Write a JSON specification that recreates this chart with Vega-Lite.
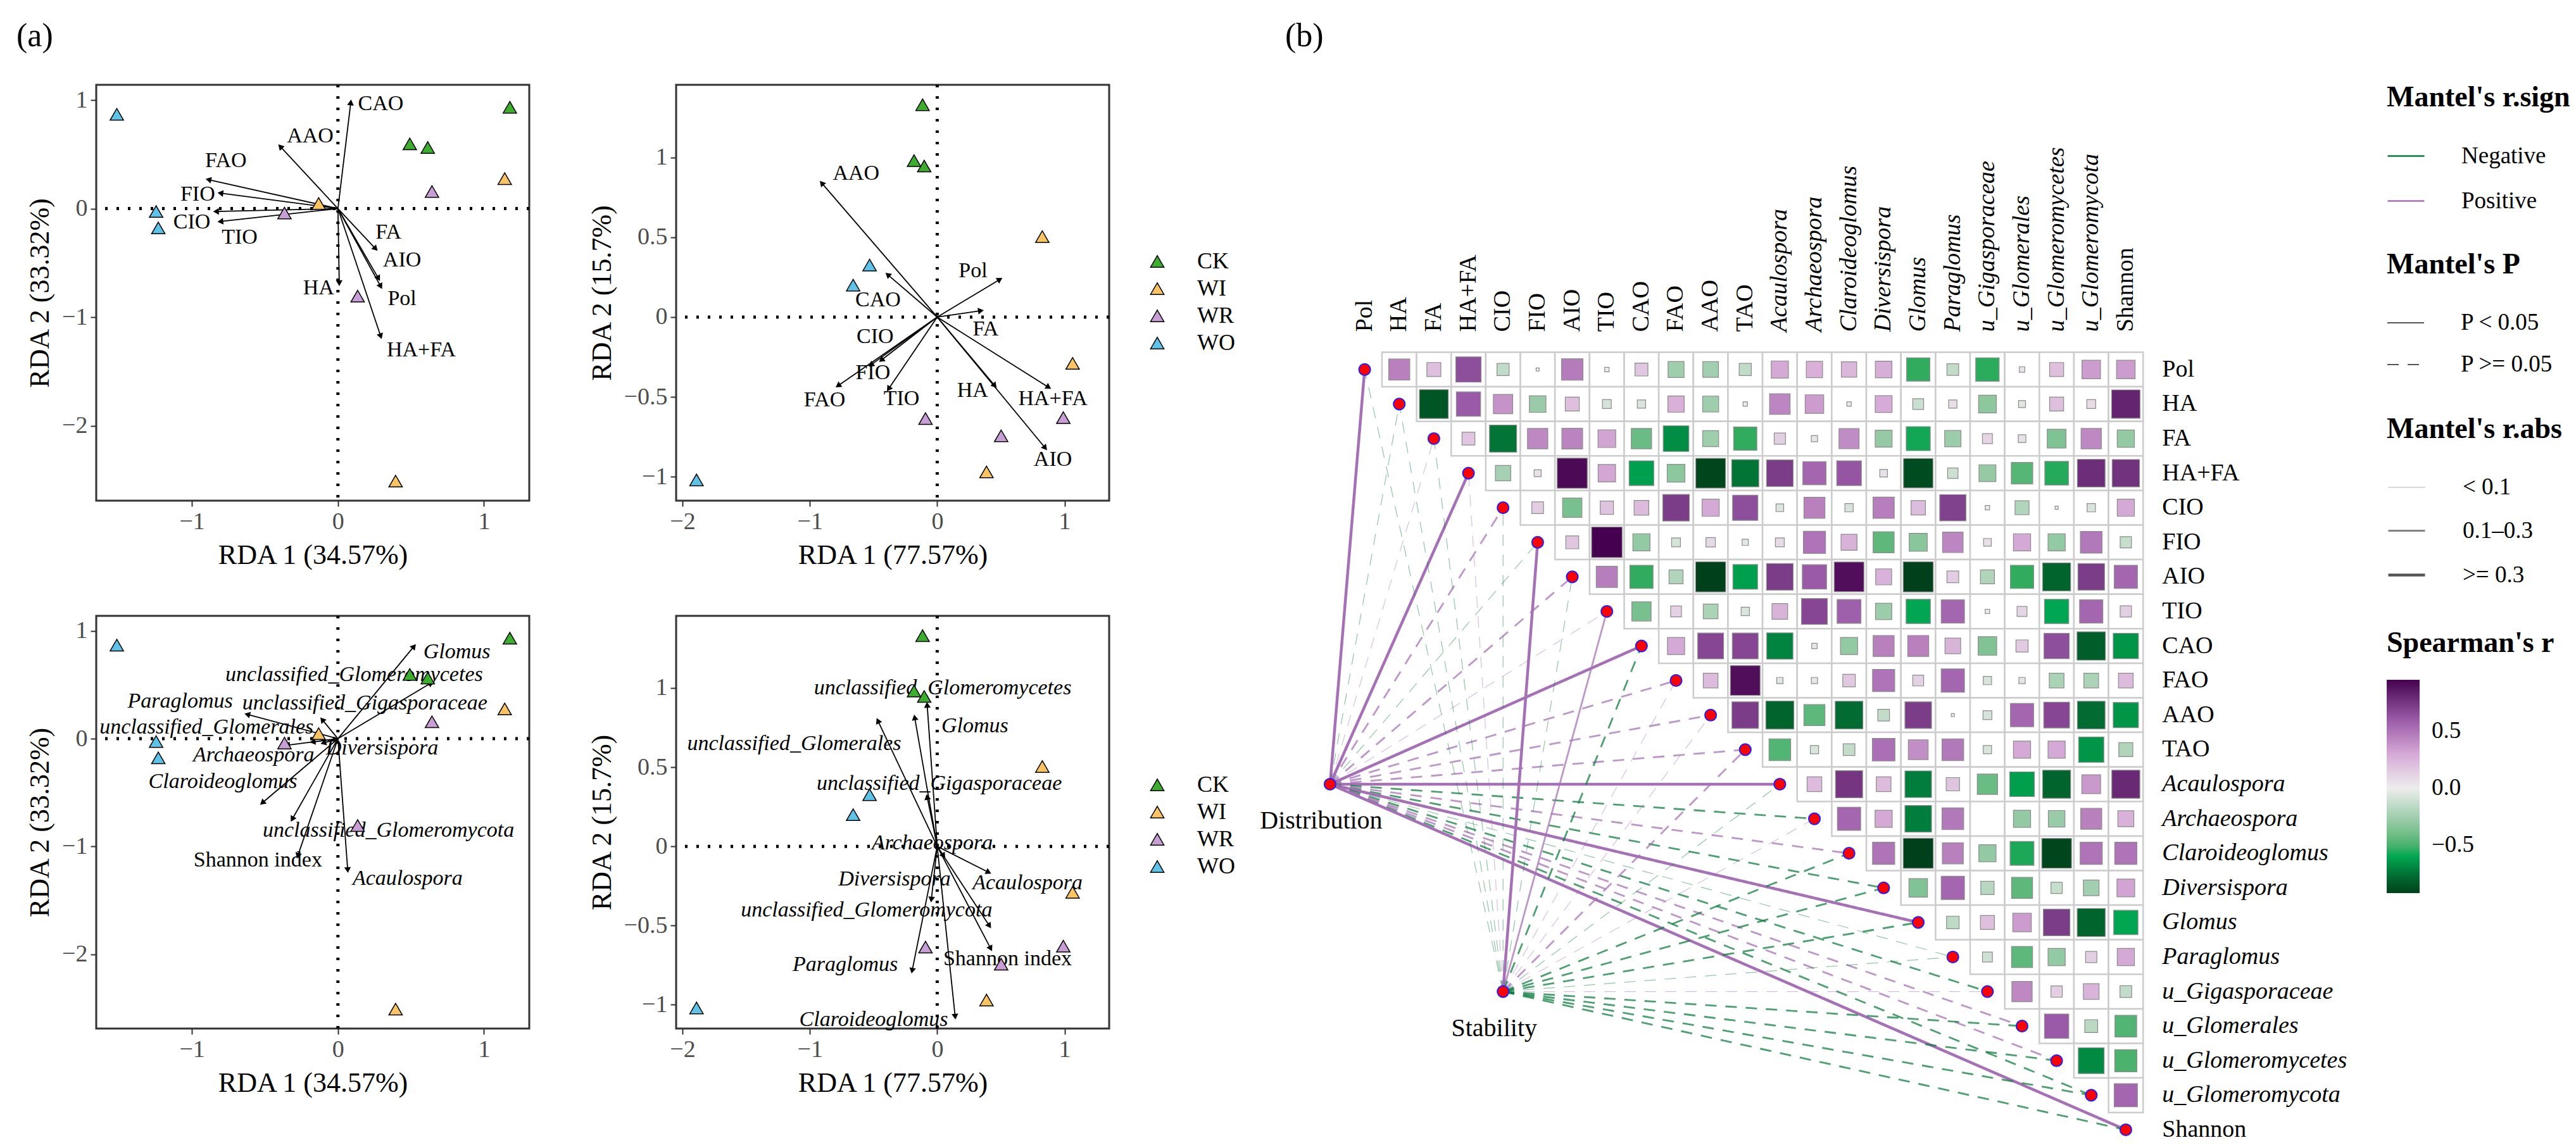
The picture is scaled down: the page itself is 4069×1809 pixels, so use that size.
{
"$schema": "https://vega.github.io/schema/vega-lite/v6.json",
"padding": {"left": 24, "top": 29, "right": 0, "bottom": 0},
"background": "white",
"config": {
  "font": "Liberation Serif",
  "view": {"stroke": null},
  "axis": {"domain": false, "grid": false, "ticks": true, "tickColor": "#333333", "tickWidth": 2, "tickSize": 9, "labelFontSize": 38, "labelColor": "#4D4D4D", "titleFontSize": 44, "titleFontWeight": "normal", "titleColor": "black", "labelPadding": 5, "titlePadding": 12, "labelFlush": false, "labelOverlap": false, "format": "~g"},
  "legend": {"labelFontSize": 37, "titleFontSize": 46, "titleFontWeight": "bold", "labelColor": "black", "titleColor": "black", "labelLimit": 800, "titleLimit": 800},
  "title": {"fontWeight": "normal", "fontSize": 52, "color": "black", "anchor": "start"}
},
"datasets": {
  "sitesA": [
    {"group":"WO","x":-1.514,"y":0.868},{"group":"WO","x":-1.245,"y":-0.027},{"group":"WO","x":-1.23,"y":-0.178},
    {"group":"CK","x":1.177,"y":0.933},{"group":"CK","x":0.492,"y":0.596},{"group":"CK","x":0.615,"y":0.563},
    {"group":"WI","x":1.142,"y":0.276},{"group":"WI","x":-0.132,"y":0.047},{"group":"WI","x":0.395,"y":-2.51},
    {"group":"WR","x":0.644,"y":0.157},{"group":"WR","x":-0.366,"y":-0.041},{"group":"WR","x":0.135,"y":-0.806}
  ],
  "sitesB": [
    {"group":"CK","x":-0.115,"y":1.33},{"group":"CK","x":-0.182,"y":0.98},{"group":"CK","x":-0.102,"y":0.946},
    {"group":"WI","x":0.825,"y":0.504},{"group":"WI","x":1.063,"y":-0.29},{"group":"WI","x":0.387,"y":-0.97},
    {"group":"WR","x":-0.092,"y":-0.636},{"group":"WR","x":0.502,"y":-0.744},{"group":"WR","x":0.99,"y":-0.63},
    {"group":"WO","x":-0.531,"y":0.326},{"group":"WO","x":-0.66,"y":0.2},{"group":"WO","x":-1.89,"y":-1.02}
  ],
  "envA": [
    {"name":"CAO","x":0.088,"y":0.978,"lx":0.293,"ly":0.966},
    {"name":"AAO","x":-0.395,"y":0.572,"lx":-0.19,"ly":0.67},
    {"name":"FAO","x":-0.887,"y":0.267,"lx":-0.767,"ly":0.439},
    {"name":"FIO","x":-0.805,"y":0.142,"lx":-0.96,"ly":0.133},
    {"name":"CIO","x":-0.835,"y":-0.027,"lx":-1.0,"ly":-0.124},
    {"name":"TIO","x":-0.805,"y":-0.119,"lx":-0.673,"ly":-0.267},
    {"name":"FA","x":0.258,"y":-0.37,"lx":0.346,"ly":-0.219},
    {"name":"AIO","x":0.278,"y":-0.643,"lx":0.439,"ly":-0.474},
    {"name":"Pol","x":0.293,"y":-0.717,"lx":0.439,"ly":-0.83},
    {"name":"HA","x":0.009,"y":-0.687,"lx":-0.132,"ly":-0.732},
    {"name":"HA+FA","x":0.293,"y":-1.176,"lx":0.571,"ly":-1.304}
  ],
  "envB": [
    {"name":"AAO","x":-0.907,"y":0.84,"lx":-0.637,"ly":0.9},
    {"name":"CAO","x":-0.389,"y":0.266,"lx":-0.465,"ly":0.106},
    {"name":"Pol","x":0.492,"y":0.236,"lx":0.281,"ly":0.29},
    {"name":"FA","x":0.343,"y":0.04,"lx":0.38,"ly":-0.074},
    {"name":"CIO","x":-0.439,"y":-0.27,"lx":-0.488,"ly":-0.124},
    {"name":"FIO","x":-0.521,"y":-0.3,"lx":-0.505,"ly":-0.35},
    {"name":"FAO","x":-0.779,"y":-0.43,"lx":-0.884,"ly":-0.52},
    {"name":"TIO","x":-0.382,"y":-0.45,"lx":-0.28,"ly":-0.51},
    {"name":"HA","x":0.452,"y":-0.43,"lx":0.278,"ly":-0.46},
    {"name":"HA+FA","x":0.875,"y":-0.44,"lx":0.908,"ly":-0.51},
    {"name":"AIO","x":0.848,"y":-0.82,"lx":0.908,"ly":-0.894}
  ],
  "taxA": [
    {"name":"Glomus","kind":"taxon","x":0.521,"y":0.857,"lx":0.814,"ly":0.808},
    {"name":"unclassified_Glomeromycetes","kind":"taxon","x":0.638,"y":0.517,"lx":0.111,"ly":0.592},
    {"name":"unclassified_Gigasporaceae","kind":"taxon","x":-0.108,"y":0.177,"lx":0.184,"ly":0.328},
    {"name":"Paraglomus","kind":"taxon","x":-0.621,"y":0.226,"lx":-1.08,"ly":0.347},
    {"name":"unclassified_Glomerales","kind":"taxon","x":-0.173,"y":-0.03,"lx":-0.9,"ly":0.109},
    {"name":"Archaeospora","kind":"taxon","x":-0.348,"y":-0.06,"lx":-0.577,"ly":-0.151},
    {"name":"Diversispora","kind":"taxon","x":-0.1,"y":-0.04,"lx":0.302,"ly":-0.087},
    {"name":"Claroideoglomus","kind":"taxon","x":-0.518,"y":-0.596,"lx":-0.788,"ly":-0.4},
    {"name":"unclassified_Glomeromycota","kind":"taxon","x":-0.313,"y":-0.747,"lx":0.346,"ly":-0.853},
    {"name":"Shannon index","kind":"index","x":-0.275,"y":-1.087,"lx":-0.548,"ly":-1.125},
    {"name":"Acaulospora","kind":"taxon","x":0.067,"y":-1.219,"lx":0.477,"ly":-1.3}
  ],
  "taxB": [
    {"name":"unclassified_Glomeromycetes","kind":"taxon","x":-0.177,"y":0.814,"lx":0.043,"ly":0.999},
    {"name":"Glomus","kind":"taxon","x":-0.079,"y":0.893,"lx":0.296,"ly":0.761},
    {"name":"unclassified_Glomerales","kind":"taxon","x":-0.466,"y":0.793,"lx":-1.123,"ly":0.647},
    {"name":"unclassified_Gigasporaceae","kind":"taxon","x":-0.079,"y":0.312,"lx":0.016,"ly":0.396},
    {"name":"Archaeospora","kind":"taxon","x":0.05,"y":-0.06,"lx":-0.039,"ly":0.021},
    {"name":"Acaulospora","kind":"taxon","x":0.404,"y":-0.164,"lx":0.709,"ly":-0.23},
    {"name":"Diversispora","kind":"taxon","x":-0.046,"y":-0.336,"lx":-0.335,"ly":-0.209},
    {"name":"unclassified_Glomeromycota","kind":"taxon","x":0.41,"y":-0.502,"lx":-0.555,"ly":-0.402},
    {"name":"Shannon index","kind":"index","x":0.42,"y":-0.645,"lx":0.552,"ly":-0.711},
    {"name":"Paraglomus","kind":"taxon","x":-0.197,"y":-0.785,"lx":-0.722,"ly":-0.745},
    {"name":"Claroideoglomus","kind":"taxon","x":0.141,"y":-1.075,"lx":-0.499,"ly":-1.094}
  ],
  "vars": [
    {"name":"Pol","idx":0,"group":"soil"},{"name":"HA","idx":1,"group":"soil"},{"name":"FA","idx":2,"group":"soil"},
    {"name":"HA+FA","idx":3,"group":"soil"},{"name":"CIO","idx":4,"group":"soil"},{"name":"FIO","idx":5,"group":"soil"},
    {"name":"AIO","idx":6,"group":"soil"},{"name":"TIO","idx":7,"group":"soil"},{"name":"CAO","idx":8,"group":"soil"},
    {"name":"FAO","idx":9,"group":"soil"},{"name":"AAO","idx":10,"group":"soil"},{"name":"TAO","idx":11,"group":"soil"},
    {"name":"Acaulospora","idx":12,"group":"taxon"},{"name":"Archaeospora","idx":13,"group":"taxon"},
    {"name":"Claroideoglomus","idx":14,"group":"taxon"},{"name":"Diversispora","idx":15,"group":"taxon"},
    {"name":"Glomus","idx":16,"group":"taxon"},{"name":"Paraglomus","idx":17,"group":"taxon"},
    {"name":"u_Gigasporaceae","idx":18,"group":"taxon"},{"name":"u_Glomerales","idx":19,"group":"taxon"},
    {"name":"u_Glomeromycetes","idx":20,"group":"taxon"},{"name":"u_Glomeromycota","idx":21,"group":"taxon"},
    {"name":"Shannon","idx":22,"group":"diversity"}
  ],
  "envs": [
    {"env":"Distribution","ex":-1,"ey":12},
    {"env":"Stability","ex":4,"ey":18}
  ],
  "links": [
    {"env":"Distribution","spec":"Pol","sign":"Positive","p":"P < 0.05","rabs":">= 0.3"},
    {"env":"Distribution","spec":"HA","sign":"Negative","p":"P >= 0.05","rabs":"< 0.1"},
    {"env":"Distribution","spec":"FA","sign":"Positive","p":"P >= 0.05","rabs":"< 0.1"},
    {"env":"Distribution","spec":"HA+FA","sign":"Positive","p":"P < 0.05","rabs":">= 0.3"},
    {"env":"Distribution","spec":"CIO","sign":"Positive","p":"P >= 0.05","rabs":"0.1–0.3"},
    {"env":"Distribution","spec":"FIO","sign":"Negative","p":"P >= 0.05","rabs":"< 0.1"},
    {"env":"Distribution","spec":"AIO","sign":"Positive","p":"P >= 0.05","rabs":"0.1–0.3"},
    {"env":"Distribution","spec":"TIO","sign":"Positive","p":"P >= 0.05","rabs":"< 0.1"},
    {"env":"Distribution","spec":"CAO","sign":"Positive","p":"P < 0.05","rabs":">= 0.3"},
    {"env":"Distribution","spec":"FAO","sign":"Positive","p":"P >= 0.05","rabs":"0.1–0.3"},
    {"env":"Distribution","spec":"AAO","sign":"Positive","p":"P >= 0.05","rabs":"0.1–0.3"},
    {"env":"Distribution","spec":"TAO","sign":"Positive","p":"P >= 0.05","rabs":"0.1–0.3"},
    {"env":"Distribution","spec":"Acaulospora","sign":"Positive","p":"P < 0.05","rabs":">= 0.3"},
    {"env":"Distribution","spec":"Archaeospora","sign":"Negative","p":"P >= 0.05","rabs":"0.1–0.3"},
    {"env":"Distribution","spec":"Claroideoglomus","sign":"Positive","p":"P >= 0.05","rabs":"0.1–0.3"},
    {"env":"Distribution","spec":"Diversispora","sign":"Negative","p":"P >= 0.05","rabs":"0.1–0.3"},
    {"env":"Distribution","spec":"Glomus","sign":"Positive","p":"P < 0.05","rabs":">= 0.3"},
    {"env":"Distribution","spec":"Paraglomus","sign":"Negative","p":"P >= 0.05","rabs":"< 0.1"},
    {"env":"Distribution","spec":"u_Gigasporaceae","sign":"Negative","p":"P >= 0.05","rabs":"0.1–0.3"},
    {"env":"Distribution","spec":"u_Glomerales","sign":"Positive","p":"P >= 0.05","rabs":"0.1–0.3"},
    {"env":"Distribution","spec":"u_Glomeromycetes","sign":"Positive","p":"P >= 0.05","rabs":"0.1–0.3"},
    {"env":"Distribution","spec":"u_Glomeromycota","sign":"Negative","p":"P >= 0.05","rabs":"0.1–0.3"},
    {"env":"Distribution","spec":"Shannon","sign":"Positive","p":"P < 0.05","rabs":">= 0.3"},
    {"env":"Stability","spec":"Pol","sign":"Negative","p":"P >= 0.05","rabs":"< 0.1"},
    {"env":"Stability","spec":"HA","sign":"Negative","p":"P >= 0.05","rabs":"< 0.1"},
    {"env":"Stability","spec":"FA","sign":"Negative","p":"P >= 0.05","rabs":"< 0.1"},
    {"env":"Stability","spec":"HA+FA","sign":"Positive","p":"P >= 0.05","rabs":"< 0.1"},
    {"env":"Stability","spec":"CIO","sign":"Negative","p":"P >= 0.05","rabs":"< 0.1"},
    {"env":"Stability","spec":"FIO","sign":"Positive","p":"P < 0.05","rabs":">= 0.3"},
    {"env":"Stability","spec":"AIO","sign":"Negative","p":"P >= 0.05","rabs":"< 0.1"},
    {"env":"Stability","spec":"TIO","sign":"Positive","p":"P < 0.05","rabs":"0.1–0.3"},
    {"env":"Stability","spec":"CAO","sign":"Negative","p":"P >= 0.05","rabs":"0.1–0.3"},
    {"env":"Stability","spec":"FAO","sign":"Positive","p":"P >= 0.05","rabs":"< 0.1"},
    {"env":"Stability","spec":"AAO","sign":"Positive","p":"P >= 0.05","rabs":"< 0.1"},
    {"env":"Stability","spec":"TAO","sign":"Positive","p":"P >= 0.05","rabs":"0.1–0.3"},
    {"env":"Stability","spec":"Acaulospora","sign":"Negative","p":"P >= 0.05","rabs":"< 0.1"},
    {"env":"Stability","spec":"Archaeospora","sign":"Positive","p":"P >= 0.05","rabs":"< 0.1"},
    {"env":"Stability","spec":"Claroideoglomus","sign":"Negative","p":"P >= 0.05","rabs":"0.1–0.3"},
    {"env":"Stability","spec":"Diversispora","sign":"Negative","p":"P >= 0.05","rabs":"0.1–0.3"},
    {"env":"Stability","spec":"Glomus","sign":"Negative","p":"P >= 0.05","rabs":"0.1–0.3"},
    {"env":"Stability","spec":"Paraglomus","sign":"Negative","p":"P >= 0.05","rabs":"< 0.1"},
    {"env":"Stability","spec":"u_Gigasporaceae","sign":"Positive","p":"P >= 0.05","rabs":"< 0.1"},
    {"env":"Stability","spec":"u_Glomerales","sign":"Negative","p":"P >= 0.05","rabs":"0.1–0.3"},
    {"env":"Stability","spec":"u_Glomeromycetes","sign":"Negative","p":"P >= 0.05","rabs":"0.1–0.3"},
    {"env":"Stability","spec":"u_Glomeromycota","sign":"Negative","p":"P >= 0.05","rabs":"0.1–0.3"},
    {"env":"Stability","spec":"Shannon","sign":"Negative","p":"P >= 0.05","rabs":"0.1–0.3"}
  ],
  "cells": [
    {"row":"Pol","col":"HA","r":0.45},{"row":"Pol","col":"FA","r":0.2},{"row":"Pol","col":"HA+FA","r":0.65},{"row":"Pol","col":"CIO","r":-0.15},{"row":"Pol","col":"FIO","r":0.01},{"row":"Pol","col":"AIO","r":0.47},{"row":"Pol","col":"TIO","r":0.02},{"row":"Pol","col":"CAO","r":0.17},{"row":"Pol","col":"FAO","r":-0.26},{"row":"Pol","col":"AAO","r":-0.25},{"row":"Pol","col":"TAO","r":-0.15},{"row":"Pol","col":"Acaulospora","r":0.3},{"row":"Pol","col":"Archaeospora","r":0.27},{"row":"Pol","col":"Claroideoglomus","r":0.24},{"row":"Pol","col":"Diversispora","r":0.28},{"row":"Pol","col":"Glomus","r":-0.55},{"row":"Pol","col":"Paraglomus","r":-0.14},{"row":"Pol","col":"u_Gigasporaceae","r":-0.56},{"row":"Pol","col":"u_Glomerales","r":0.03},{"row":"Pol","col":"u_Glomeromycetes","r":0.2},{"row":"Pol","col":"u_Glomeromycota","r":0.35},{"row":"Pol","col":"Shannon","r":0.35},
    {"row":"HA","col":"FA","r":-0.85},{"row":"HA","col":"HA+FA","r":0.6},{"row":"HA","col":"CIO","r":0.38},{"row":"HA","col":"FIO","r":-0.28},{"row":"HA","col":"AIO","r":0.2},{"row":"HA","col":"TIO","r":-0.08},{"row":"HA","col":"CAO","r":-0.07},{"row":"HA","col":"FAO","r":0.27},{"row":"HA","col":"AAO","r":-0.26},{"row":"HA","col":"TAO","r":0.02},{"row":"HA","col":"Acaulospora","r":0.43},{"row":"HA","col":"Archaeospora","r":0.35},{"row":"HA","col":"Claroideoglomus","r":0.02},{"row":"HA","col":"Diversispora","r":0.29},{"row":"HA","col":"Glomus","r":-0.12},{"row":"HA","col":"Paraglomus","r":0.07},{"row":"HA","col":"u_Gigasporaceae","r":-0.32},{"row":"HA","col":"u_Glomerales","r":-0.05},{"row":"HA","col":"u_Glomeromycetes","r":0.2},{"row":"HA","col":"u_Glomeromycota","r":0.08},{"row":"HA","col":"Shannon","r":0.82},
    {"row":"FA","col":"HA+FA","r":0.17},{"row":"FA","col":"CIO","r":-0.75},{"row":"FA","col":"FIO","r":0.42},{"row":"FA","col":"AIO","r":0.44},{"row":"FA","col":"TIO","r":0.32},{"row":"FA","col":"CAO","r":-0.42},{"row":"FA","col":"FAO","r":-0.67},{"row":"FA","col":"AAO","r":-0.26},{"row":"FA","col":"TAO","r":-0.55},{"row":"FA","col":"Acaulospora","r":0.13},{"row":"FA","col":"Archaeospora","r":0.04},{"row":"FA","col":"Claroideoglomus","r":0.41},{"row":"FA","col":"Diversispora","r":-0.29},{"row":"FA","col":"Glomus","r":-0.59},{"row":"FA","col":"Paraglomus","r":-0.27},{"row":"FA","col":"u_Gigasporaceae","r":0.1},{"row":"FA","col":"u_Glomerales","r":0.06},{"row":"FA","col":"u_Glomeromycetes","r":-0.36},{"row":"FA","col":"u_Glomeromycota","r":0.42},{"row":"FA","col":"Shannon","r":-0.3},
    {"row":"HA+FA","col":"CIO","r":-0.24},{"row":"HA+FA","col":"FIO","r":0.05},{"row":"HA+FA","col":"AIO","r":0.92},{"row":"HA+FA","col":"TIO","r":0.31},{"row":"HA+FA","col":"CAO","r":-0.62},{"row":"HA+FA","col":"FAO","r":-0.32},{"row":"HA+FA","col":"AAO","r":-0.9},{"row":"HA+FA","col":"TAO","r":-0.75},{"row":"HA+FA","col":"Acaulospora","r":0.72},{"row":"HA+FA","col":"Archaeospora","r":0.55},{"row":"HA+FA","col":"Claroideoglomus","r":0.62},{"row":"HA+FA","col":"Diversispora","r":0.06},{"row":"HA+FA","col":"Glomus","r":-0.88},{"row":"HA+FA","col":"Paraglomus","r":-0.11},{"row":"HA+FA","col":"u_Gigasporaceae","r":-0.29},{"row":"HA+FA","col":"u_Glomerales","r":-0.47},{"row":"HA+FA","col":"u_Glomeromycetes","r":-0.57},{"row":"HA+FA","col":"u_Glomeromycota","r":0.78},{"row":"HA+FA","col":"Shannon","r":0.76},
    {"row":"CIO","col":"FIO","r":0.14},{"row":"CIO","col":"AIO","r":-0.38},{"row":"CIO","col":"TIO","r":0.18},{"row":"CIO","col":"CAO","r":0.22},{"row":"CIO","col":"FAO","r":0.72},{"row":"CIO","col":"AAO","r":0.3},{"row":"CIO","col":"TAO","r":0.65},{"row":"CIO","col":"Acaulospora","r":-0.06},{"row":"CIO","col":"Archaeospora","r":0.45},{"row":"CIO","col":"Claroideoglomus","r":-0.07},{"row":"CIO","col":"Diversispora","r":0.46},{"row":"CIO","col":"Glomus","r":0.21},{"row":"CIO","col":"Paraglomus","r":0.7},{"row":"CIO","col":"u_Gigasporaceae","r":0.02},{"row":"CIO","col":"u_Glomerales","r":-0.2},{"row":"CIO","col":"u_Glomeromycetes","r":-0.01},{"row":"CIO","col":"u_Glomeromycota","r":-0.07},{"row":"CIO","col":"Shannon","r":0.3},
    {"row":"FIO","col":"AIO","r":0.17},{"row":"FIO","col":"TIO","r":0.95},{"row":"FIO","col":"CAO","r":-0.3},{"row":"FIO","col":"FAO","r":-0.08},{"row":"FIO","col":"AAO","r":0.09},{"row":"FIO","col":"TAO","r":-0.04},{"row":"FIO","col":"Acaulospora","r":0.08},{"row":"FIO","col":"Archaeospora","r":0.5},{"row":"FIO","col":"Claroideoglomus","r":0.26},{"row":"FIO","col":"Diversispora","r":-0.45},{"row":"FIO","col":"Glomus","r":-0.33},{"row":"FIO","col":"Paraglomus","r":0.43},{"row":"FIO","col":"u_Gigasporaceae","r":0.06},{"row":"FIO","col":"u_Glomerales","r":0.3},{"row":"FIO","col":"u_Glomeromycetes","r":-0.3},{"row":"FIO","col":"u_Glomeromycota","r":0.48},{"row":"FIO","col":"Shannon","r":-0.13},
    {"row":"AIO","col":"TIO","r":0.46},{"row":"AIO","col":"CAO","r":-0.55},{"row":"AIO","col":"FAO","r":-0.2},{"row":"AIO","col":"AAO","r":-0.92},{"row":"AIO","col":"TAO","r":-0.62},{"row":"AIO","col":"Acaulospora","r":0.72},{"row":"AIO","col":"Archaeospora","r":0.6},{"row":"AIO","col":"Claroideoglomus","r":0.9},{"row":"AIO","col":"Diversispora","r":0.26},{"row":"AIO","col":"Glomus","r":-0.92},{"row":"AIO","col":"Paraglomus","r":0.14},{"row":"AIO","col":"u_Gigasporaceae","r":-0.2},{"row":"AIO","col":"u_Glomerales","r":-0.55},{"row":"AIO","col":"u_Glomeromycetes","r":-0.8},{"row":"AIO","col":"u_Glomeromycota","r":0.72},{"row":"AIO","col":"Shannon","r":0.55},
    {"row":"TIO","col":"CAO","r":-0.38},{"row":"TIO","col":"FAO","r":0.12},{"row":"TIO","col":"AAO","r":-0.22},{"row":"TIO","col":"TAO","r":-0.07},{"row":"TIO","col":"Acaulospora","r":0.25},{"row":"TIO","col":"Archaeospora","r":0.68},{"row":"TIO","col":"Claroideoglomus","r":0.58},{"row":"TIO","col":"Diversispora","r":-0.27},{"row":"TIO","col":"Glomus","r":-0.6},{"row":"TIO","col":"Paraglomus","r":0.55},{"row":"TIO","col":"u_Gigasporaceae","r":0.02},{"row":"TIO","col":"u_Glomerales","r":0.1},{"row":"TIO","col":"u_Glomeromycetes","r":-0.6},{"row":"TIO","col":"u_Glomeromycota","r":0.55},{"row":"TIO","col":"Shannon","r":0.13},
    {"row":"CAO","col":"FAO","r":0.3},{"row":"CAO","col":"AAO","r":0.68},{"row":"CAO","col":"TAO","r":0.68},{"row":"CAO","col":"Acaulospora","r":-0.7},{"row":"CAO","col":"Archaeospora","r":-0.03},{"row":"CAO","col":"Claroideoglomus","r":-0.3},{"row":"CAO","col":"Diversispora","r":0.45},{"row":"CAO","col":"Glomus","r":0.45},{"row":"CAO","col":"Paraglomus","r":0.25},{"row":"CAO","col":"u_Gigasporaceae","r":-0.35},{"row":"CAO","col":"u_Glomerales","r":0.15},{"row":"CAO","col":"u_Glomeromycetes","r":0.65},{"row":"CAO","col":"u_Glomeromycota","r":-0.82},{"row":"CAO","col":"Shannon","r":-0.65},
    {"row":"FAO","col":"AAO","r":0.22},{"row":"FAO","col":"TAO","r":0.9},{"row":"FAO","col":"Acaulospora","r":-0.04},{"row":"FAO","col":"Archaeospora","r":0.04},{"row":"FAO","col":"Claroideoglomus","r":0.16},{"row":"FAO","col":"Diversispora","r":0.5},{"row":"FAO","col":"Glomus","r":0.12},{"row":"FAO","col":"Paraglomus","r":0.55},{"row":"FAO","col":"u_Gigasporaceae","r":-0.07},{"row":"FAO","col":"u_Glomerales","r":-0.04},{"row":"FAO","col":"u_Glomeromycetes","r":-0.22},{"row":"FAO","col":"u_Glomeromycota","r":-0.22},{"row":"FAO","col":"Shannon","r":0.22},
    {"row":"AAO","col":"TAO","r":0.72},{"row":"AAO","col":"Acaulospora","r":-0.8},{"row":"AAO","col":"Archaeospora","r":-0.45},{"row":"AAO","col":"Claroideoglomus","r":-0.78},{"row":"AAO","col":"Diversispora","r":-0.14},{"row":"AAO","col":"Glomus","r":0.72},{"row":"AAO","col":"Paraglomus","r":0.01},{"row":"AAO","col":"u_Gigasporaceae","r":-0.08},{"row":"AAO","col":"u_Glomerales","r":0.55},{"row":"AAO","col":"u_Glomeromycetes","r":0.68},{"row":"AAO","col":"u_Glomeromycota","r":-0.78},{"row":"AAO","col":"Shannon","r":-0.65},
    {"row":"TAO","col":"Acaulospora","r":-0.48},{"row":"TAO","col":"Archaeospora","r":-0.07},{"row":"TAO","col":"Claroideoglomus","r":-0.14},{"row":"TAO","col":"Diversispora","r":0.52},{"row":"TAO","col":"Glomus","r":0.4},{"row":"TAO","col":"Paraglomus","r":0.48},{"row":"TAO","col":"u_Gigasporaceae","r":-0.07},{"row":"TAO","col":"u_Glomerales","r":0.3},{"row":"TAO","col":"u_Glomeromycetes","r":0.3},{"row":"TAO","col":"u_Glomeromycota","r":-0.65},{"row":"TAO","col":"Shannon","r":-0.2},
    {"row":"Acaulospora","col":"Archaeospora","r":0.22},{"row":"Acaulospora","col":"Claroideoglomus","r":0.75},{"row":"Acaulospora","col":"Diversispora","r":0.22},{"row":"Acaulospora","col":"Glomus","r":-0.72},{"row":"Acaulospora","col":"Paraglomus","r":0.18},{"row":"Acaulospora","col":"u_Gigasporaceae","r":-0.42},{"row":"Acaulospora","col":"u_Glomerales","r":-0.62},{"row":"Acaulospora","col":"u_Glomeromycetes","r":-0.8},{"row":"Acaulospora","col":"u_Glomeromycota","r":0.36},{"row":"Acaulospora","col":"Shannon","r":0.8},
    {"row":"Archaeospora","col":"Claroideoglomus","r":0.55},{"row":"Archaeospora","col":"Diversispora","r":0.3},{"row":"Archaeospora","col":"Glomus","r":-0.72},{"row":"Archaeospora","col":"Paraglomus","r":0.48},{"row":"Archaeospora","col":"u_Gigasporaceae","r":0.0},{"row":"Archaeospora","col":"u_Glomerales","r":-0.3},{"row":"Archaeospora","col":"u_Glomeromycetes","r":-0.28},{"row":"Archaeospora","col":"u_Glomeromycota","r":0.45},{"row":"Archaeospora","col":"Shannon","r":0.26},
    {"row":"Claroideoglomus","col":"Diversispora","r":0.5},{"row":"Claroideoglomus","col":"Glomus","r":-0.92},{"row":"Claroideoglomus","col":"Paraglomus","r":0.45},{"row":"Claroideoglomus","col":"u_Gigasporaceae","r":-0.3},{"row":"Claroideoglomus","col":"u_Glomerales","r":-0.58},{"row":"Claroideoglomus","col":"u_Glomeromycetes","r":-0.9},{"row":"Claroideoglomus","col":"u_Glomeromycota","r":0.5},{"row":"Claroideoglomus","col":"Shannon","r":0.5},
    {"row":"Diversispora","col":"Glomus","r":-0.35},{"row":"Diversispora","col":"Paraglomus","r":0.55},{"row":"Diversispora","col":"u_Gigasporaceae","r":-0.18},{"row":"Diversispora","col":"u_Glomerales","r":-0.45},{"row":"Diversispora","col":"u_Glomeromycetes","r":-0.13},{"row":"Diversispora","col":"u_Glomeromycota","r":-0.25},{"row":"Diversispora","col":"Shannon","r":0.32},
    {"row":"Glomus","col":"Paraglomus","r":-0.16},{"row":"Glomus","col":"u_Gigasporaceae","r":0.2},{"row":"Glomus","col":"u_Glomerales","r":0.35},{"row":"Glomus","col":"u_Glomeromycetes","r":0.72},{"row":"Glomus","col":"u_Glomeromycota","r":-0.8},{"row":"Glomus","col":"Shannon","r":-0.6},
    {"row":"Paraglomus","col":"u_Gigasporaceae","r":-0.1},{"row":"Paraglomus","col":"u_Glomerales","r":-0.45},{"row":"Paraglomus","col":"u_Glomeromycetes","r":-0.3},{"row":"Paraglomus","col":"u_Glomeromycota","r":0.13},{"row":"Paraglomus","col":"Shannon","r":0.3},
    {"row":"u_Gigasporaceae","col":"u_Glomerales","r":0.42},{"row":"u_Gigasporaceae","col":"u_Glomeromycetes","r":0.13},{"row":"u_Gigasporaceae","col":"u_Glomeromycota","r":0.25},{"row":"u_Gigasporaceae","col":"Shannon","r":-0.14},
    {"row":"u_Glomerales","col":"u_Glomeromycetes","r":0.6},{"row":"u_Glomerales","col":"u_Glomeromycota","r":-0.17},{"row":"u_Glomerales","col":"Shannon","r":-0.48},
    {"row":"u_Glomeromycetes","col":"u_Glomeromycota","r":-0.68},{"row":"u_Glomeromycetes","col":"Shannon","r":-0.5},
    {"row":"u_Glomeromycota","col":"Shannon","r":0.55}
  ]
},
"columns": 3,
"spacing": {"row": 182, "column": 232},
"bounds": "flush",
"resolve": {"scale": {"x": "independent", "y": "independent", "fill": "independent", "stroke": "independent", "strokeDash": "independent", "strokeWidth": "independent", "size": "independent", "opacity": "independent"}, "legend": {"fill": "independent"}},
"concat": [
  {
    "title": {"text": "(a)", "anchor": "start", "frame": "group", "dx": -126, "offset": 48},
    "width": 684, "height": 657,
    "view": {"stroke": "#333333", "strokeWidth": 3},
    "layer": [
      {"data": {"values": [{}]}, "mark": {"type": "rule", "color": "black", "strokeWidth": 5, "strokeDash": [4, 14]},
       "encoding": {"x": {"datum": 0, "type": "quantitative"}}},
      {"data": {"values": [{}]}, "mark": {"type": "rule", "color": "black", "strokeWidth": 5, "strokeDash": [4, 14]},
       "encoding": {"y": {"datum": 0, "type": "quantitative"}}},
      {"data": {"name": "envA"}, "mark": {"type": "rule", "color": "black", "strokeWidth": 1.8},
       "encoding": {"x": {"field": "x", "type": "quantitative"}, "x2": {"datum": 0}, "y": {"field": "y", "type": "quantitative"}, "y2": {"datum": 0}}},
      {"data": {"name": "envA"}, "transform": [{"calculate": "atan2(datum.x*230.7, datum.y*171.5)*180/PI", "as": "ang"}],
       "mark": {"type": "point", "shape": "triangle-up", "filled": true, "color": "black", "size": 110, "opacity": 1},
       "encoding": {"x": {"field": "x", "type": "quantitative"}, "y": {"field": "y", "type": "quantitative"}, "angle": {"field": "ang", "type": "quantitative", "scale": null}}},
      {"data": {"name": "envA"}, "mark": {"type": "text", "fontSize": 34, "align": "center", "baseline": "middle", "color": "black"},
       "encoding": {"x": {"field": "lx", "type": "quantitative"}, "y": {"field": "ly", "type": "quantitative"}, "text": {"field": "name"}}},
      {"data": {"name": "sitesA"}, "mark": {"type": "point", "shape": "triangle-up", "filled": true, "size": 450, "stroke": "black", "strokeWidth": 1.5, "opacity": 1},
       "encoding": {"x": {"field": "x", "type": "quantitative", "scale": {"domain": [-1.655, 1.31], "nice": false, "zero": false}, "axis": {"title": "RDA 1 (34.57%)", "values": [-1, 0, 1]}},
                    "y": {"field": "y", "type": "quantitative", "scale": {"domain": [-2.69, 1.14], "nice": false, "zero": false}, "axis": {"title": "RDA 2 (33.32%)", "values": [-2, -1, 0, 1]}},
         "fill": {"field": "group", "type": "nominal", "scale": {"domain": ["CK", "WI", "WR", "WO"], "range": ["#3DAD2E", "#FBC462", "#C99DD5", "#5DC3E8"]}, "legend": null}}}
    ]
  },
  {
    "width": 684, "height": 657,
    "view": {"stroke": "#333333", "strokeWidth": 3},
    "layer": [
      {"data": {"values": [{}]}, "mark": {"type": "rule", "color": "black", "strokeWidth": 5, "strokeDash": [4, 14]},
       "encoding": {"x": {"datum": 0, "type": "quantitative"}}},
      {"data": {"values": [{}]}, "mark": {"type": "rule", "color": "black", "strokeWidth": 5, "strokeDash": [4, 14]},
       "encoding": {"y": {"datum": 0, "type": "quantitative"}}},
      {"data": {"name": "envB"}, "mark": {"type": "rule", "color": "black", "strokeWidth": 1.8},
       "encoding": {"x": {"field": "x", "type": "quantitative"}, "x2": {"datum": 0}, "y": {"field": "y", "type": "quantitative"}, "y2": {"datum": 0}}},
      {"data": {"name": "envB"}, "transform": [{"calculate": "atan2(datum.x*201.2, datum.y*252.2)*180/PI", "as": "ang"}],
       "mark": {"type": "point", "shape": "triangle-up", "filled": true, "color": "black", "size": 110, "opacity": 1},
       "encoding": {"x": {"field": "x", "type": "quantitative"}, "y": {"field": "y", "type": "quantitative"}, "angle": {"field": "ang", "type": "quantitative", "scale": null}}},
      {"data": {"name": "envB"}, "mark": {"type": "text", "fontSize": 34, "align": "center", "baseline": "middle", "color": "black"},
       "encoding": {"x": {"field": "lx", "type": "quantitative"}, "y": {"field": "ly", "type": "quantitative"}, "text": {"field": "name"}}},
      {"data": {"name": "sitesB"}, "mark": {"type": "point", "shape": "triangle-up", "filled": true, "size": 450, "stroke": "black", "strokeWidth": 1.5, "opacity": 1},
       "encoding": {"x": {"field": "x", "type": "quantitative", "scale": {"domain": [-2.05, 1.35], "nice": false, "zero": false}, "axis": {"title": "RDA 1 (77.57%)", "values": [-2, -1, 0, 1]}},
                    "y": {"field": "y", "type": "quantitative", "scale": {"domain": [-1.15, 1.455], "nice": false, "zero": false}, "axis": {"title": "RDA 2 (15.7%)", "values": [-1, -0.5, 0, 0.5, 1]}},
         "fill": {"field": "group", "type": "nominal", "scale": {"domain": ["CK", "WI", "WR", "WO"], "range": ["#3DAD2E", "#FBC462", "#C99DD5", "#5DC3E8"]},
           "legend": {"title": null, "orient": "none", "legendX": 742, "legendY": 261, "symbolType": "triangle-up", "symbolSize": 450, "symbolStrokeColor": "black", "symbolStrokeWidth": 1.5, "symbolOpacity": 1, "labelOffset": 45, "rowPadding": 7, "labelFontSize": 36}}}}
    ]
  },
  {
    "title": {"text": "(b)", "anchor": "start", "frame": "group", "dx": 46, "offset": 48},
    "width": 1399, "height": 657,
    "layer": [
      {"data": {"name": "cells"},
       "transform": [{"lookup": "row", "from": {"data": {"name": "vars"}, "key": "name", "fields": ["idx"]}, "as": ["ri"]}, {"lookup": "col", "from": {"data": {"name": "vars"}, "key": "name", "fields": ["idx"]}, "as": ["ci"]}],
       "mark": {"type": "square", "size": 2981, "filled": true, "fill": "white", "stroke": "#CCCCCC", "strokeWidth": 2.5, "opacity": 1},
       "encoding": {"x": {"field": "ci", "type": "quantitative", "scale": {"domain": [-3.14, 22.459], "nice": false, "zero": false}, "axis": null},
                    "y": {"field": "ri", "type": "quantitative", "scale": {"domain": [-8.238, 3.795], "nice": false, "zero": false, "reverse": true}, "axis": null}}},
      {"data": {"name": "cells"},
       "transform": [{"lookup": "row", "from": {"data": {"name": "vars"}, "key": "name", "fields": ["idx"]}, "as": ["ri"]}, {"lookup": "col", "from": {"data": {"name": "vars"}, "key": "name", "fields": ["idx"]}, "as": ["ci"]}],
       "mark": {"type": "square", "filled": true, "stroke": "#8C8C8C", "strokeWidth": 1.2, "opacity": 1},
       "encoding": {"x": {"field": "ci", "type": "quantitative", "axis": null},
                    "y": {"field": "ri", "type": "quantitative", "axis": null},
                    "fill": {"field": "r", "type": "quantitative",
                             "scale": {"domain": [-0.92, -0.6, -0.3, 0, 0.3, 0.6, 0.95], "range": ["#00401A", "#00A651", "#93C9A3", "#EDEDED", "#D5A9D6", "#9A5AA8", "#45004F"]},
                             "legend": {"title": "Spearman's r", "orient": "none", "legendX": 1786, "legendY": 860, "direction": "vertical", "gradientLength": 337, "gradientThickness": 52, "values": [0.5, 0, -0.5], "format": ".1f", "labelOffset": 19, "titlePadding": 34, "gradientStrokeWidth": 0}},
                    "size": {"field": "r", "type": "quantitative", "scale": {"domain": [-1, 0, 1], "range": [2450, 0, 2450]}, "legend": null}}},
      {"data": {"name": "links"},
       "transform": [{"lookup": "spec", "from": {"data": {"name": "vars"}, "key": "name", "fields": ["idx"]}}, {"lookup": "env", "from": {"data": {"name": "envs"}, "key": "env", "fields": ["ex", "ey"]}}],
       "mark": {"type": "rule"},
       "encoding": {"x": {"field": "ex", "type": "quantitative", "axis": null}, "y": {"field": "ey", "type": "quantitative", "axis": null},
                    "x2": {"field": "idx"}, "y2": {"field": "idx"},
                    "stroke": {"field": "sign", "type": "nominal", "scale": {"domain": ["Negative", "Positive"], "range": ["#0B7A3D", "#A570B5"]},
                               "legend": {"title": "Mantel's r.sign", "orient": "none", "legendX": 1786, "legendY": -2, "symbolType": "stroke", "symbolSize": 3364, "symbolStrokeWidth": 2.5, "labelOffset": 57, "titlePadding": 38, "rowPadding": 22}},
                    "strokeDash": {"field": "p", "type": "nominal", "scale": {"domain": ["P < 0.05", "P >= 0.05"], "range": [[1, 0], [18, 14]]},
                               "legend": {"title": "Mantel's P", "orient": "none", "legendX": 1786, "legendY": 262, "symbolType": "stroke", "symbolSize": 3364, "symbolStrokeColor": "#555555", "symbolStrokeWidth": 2, "labelOffset": 57, "titlePadding": 38, "rowPadding": 18}},
                    "strokeWidth": {"field": "rabs", "type": "ordinal", "scale": {"domain": ["< 0.1", "0.1–0.3", ">= 0.3"], "range": [1.2, 4.5, 8]},
                               "legend": {"title": "Mantel's r.abs", "orient": "none", "legendX": 1786, "legendY": 522, "symbolType": "stroke", "symbolSize": 3364, "symbolStrokeColor": "#555555", "labelOffset": 57, "titlePadding": 38, "rowPadding": 20}},
                    "opacity": {"field": "rabs", "type": "ordinal", "scale": {"domain": ["< 0.1", "0.1–0.3", ">= 0.3"], "range": [0.45, 1, 1]}, "legend": null}}},
      {"data": {"name": "vars"},
       "mark": {"type": "circle", "size": 330, "fill": "#FF0000", "stroke": "#2020FF", "strokeWidth": 2, "opacity": 1},
       "encoding": {"x": {"field": "idx", "type": "quantitative", "axis": null}, "y": {"field": "idx", "type": "quantitative", "axis": null}}},
      {"data": {"name": "envs"},
       "mark": {"type": "circle", "size": 330, "fill": "#FF0000", "stroke": "#2020FF", "strokeWidth": 2, "opacity": 1},
       "encoding": {"x": {"field": "ex", "type": "quantitative", "axis": null}, "y": {"field": "ey", "type": "quantitative", "axis": null}}},
      {"data": {"name": "vars"}, "transform": [{"filter": "datum.group != 'taxon'"}],
       "mark": {"type": "text", "angle": 270, "align": "left", "baseline": "middle", "fontSize": 38, "color": "black"},
       "encoding": {"x": {"field": "idx", "type": "quantitative", "axis": null}, "y": {"datum": -1.09, "type": "quantitative", "axis": null}, "text": {"field": "name"}}},
      {"data": {"name": "vars"}, "transform": [{"filter": "datum.group == 'taxon'"}],
       "mark": {"type": "text", "angle": 270, "align": "left", "baseline": "middle", "fontSize": 38, "fontStyle": "italic", "color": "black"},
       "encoding": {"x": {"field": "idx", "type": "quantitative", "axis": null}, "y": {"datum": -1.09, "type": "quantitative", "axis": null}, "text": {"field": "name"}}},
      {"data": {"name": "vars"}, "transform": [{"filter": "datum.group != 'taxon'"}],
       "mark": {"type": "text", "align": "left", "baseline": "middle", "fontSize": 38, "color": "black"},
       "encoding": {"x": {"datum": 23.05, "type": "quantitative", "axis": null}, "y": {"field": "idx", "type": "quantitative", "axis": null}, "text": {"field": "name"}}},
      {"data": {"name": "vars"}, "transform": [{"filter": "datum.group == 'taxon'"}],
       "mark": {"type": "text", "align": "left", "baseline": "middle", "fontSize": 38, "fontStyle": "italic", "color": "black"},
       "encoding": {"x": {"datum": 23.05, "type": "quantitative", "axis": null}, "y": {"field": "idx", "type": "quantitative", "axis": null}, "text": {"field": "name"}}},
      {"data": {"name": "envs"},
       "mark": {"type": "text", "align": "center", "baseline": "middle", "fontSize": 40, "dy": 58, "dx": -14, "color": "black"},
       "encoding": {"x": {"field": "ex", "type": "quantitative", "axis": null}, "y": {"field": "ey", "type": "quantitative", "axis": null}, "text": {"field": "env"}}}
    ]
  },
  {
    "width": 684, "height": 652,
    "view": {"stroke": "#333333", "strokeWidth": 3},
    "layer": [
      {"data": {"values": [{}]}, "mark": {"type": "rule", "color": "black", "strokeWidth": 5, "strokeDash": [4, 14]},
       "encoding": {"x": {"datum": 0, "type": "quantitative"}}},
      {"data": {"values": [{}]}, "mark": {"type": "rule", "color": "black", "strokeWidth": 5, "strokeDash": [4, 14]},
       "encoding": {"y": {"datum": 0, "type": "quantitative"}}},
      {"data": {"name": "taxA"}, "mark": {"type": "rule", "color": "black", "strokeWidth": 1.8},
       "encoding": {"x": {"field": "x", "type": "quantitative"}, "x2": {"datum": 0}, "y": {"field": "y", "type": "quantitative"}, "y2": {"datum": 0}}},
      {"data": {"name": "taxA"}, "transform": [{"calculate": "atan2(datum.x*230.7, datum.y*170.2)*180/PI", "as": "ang"}],
       "mark": {"type": "point", "shape": "triangle-up", "filled": true, "color": "black", "size": 110, "opacity": 1},
       "encoding": {"x": {"field": "x", "type": "quantitative"}, "y": {"field": "y", "type": "quantitative"}, "angle": {"field": "ang", "type": "quantitative", "scale": null}}},
      {"data": {"name": "taxA"}, "transform": [{"filter": "datum.kind == 'taxon'"}], "mark": {"type": "text", "fontSize": 34, "fontStyle": "italic", "align": "center", "baseline": "middle", "color": "black"},
       "encoding": {"x": {"field": "lx", "type": "quantitative"}, "y": {"field": "ly", "type": "quantitative"}, "text": {"field": "name"}}},
      {"data": {"name": "taxA"}, "transform": [{"filter": "datum.kind != 'taxon'"}], "mark": {"type": "text", "fontSize": 34, "align": "center", "baseline": "middle", "color": "black"},
       "encoding": {"x": {"field": "lx", "type": "quantitative"}, "y": {"field": "ly", "type": "quantitative"}, "text": {"field": "name"}}},
      {"data": {"name": "sitesA"}, "mark": {"type": "point", "shape": "triangle-up", "filled": true, "size": 450, "stroke": "black", "strokeWidth": 1.5, "opacity": 1},
       "encoding": {"x": {"field": "x", "type": "quantitative", "scale": {"domain": [-1.655, 1.31], "nice": false, "zero": false}, "axis": {"title": "RDA 1 (34.57%)", "values": [-1, 0, 1]}},
                    "y": {"field": "y", "type": "quantitative", "scale": {"domain": [-2.69, 1.14], "nice": false, "zero": false}, "axis": {"title": "RDA 2 (33.32%)", "values": [-2, -1, 0, 1]}},
         "fill": {"field": "group", "type": "nominal", "scale": {"domain": ["CK", "WI", "WR", "WO"], "range": ["#3DAD2E", "#FBC462", "#C99DD5", "#5DC3E8"]}, "legend": null}}}
    ]
  },
  {
    "width": 684, "height": 652,
    "view": {"stroke": "#333333", "strokeWidth": 3},
    "layer": [
      {"data": {"values": [{}]}, "mark": {"type": "rule", "color": "black", "strokeWidth": 5, "strokeDash": [4, 14]},
       "encoding": {"x": {"datum": 0, "type": "quantitative"}}},
      {"data": {"values": [{}]}, "mark": {"type": "rule", "color": "black", "strokeWidth": 5, "strokeDash": [4, 14]},
       "encoding": {"y": {"datum": 0, "type": "quantitative"}}},
      {"data": {"name": "taxB"}, "mark": {"type": "rule", "color": "black", "strokeWidth": 1.8},
       "encoding": {"x": {"field": "x", "type": "quantitative"}, "x2": {"datum": 0}, "y": {"field": "y", "type": "quantitative"}, "y2": {"datum": 0}}},
      {"data": {"name": "taxB"}, "transform": [{"calculate": "atan2(datum.x*201.2, datum.y*250.3)*180/PI", "as": "ang"}],
       "mark": {"type": "point", "shape": "triangle-up", "filled": true, "color": "black", "size": 110, "opacity": 1},
       "encoding": {"x": {"field": "x", "type": "quantitative"}, "y": {"field": "y", "type": "quantitative"}, "angle": {"field": "ang", "type": "quantitative", "scale": null}}},
      {"data": {"name": "taxB"}, "transform": [{"filter": "datum.kind == 'taxon'"}], "mark": {"type": "text", "fontSize": 34, "fontStyle": "italic", "align": "center", "baseline": "middle", "color": "black"},
       "encoding": {"x": {"field": "lx", "type": "quantitative"}, "y": {"field": "ly", "type": "quantitative"}, "text": {"field": "name"}}},
      {"data": {"name": "taxB"}, "transform": [{"filter": "datum.kind != 'taxon'"}], "mark": {"type": "text", "fontSize": 34, "align": "center", "baseline": "middle", "color": "black"},
       "encoding": {"x": {"field": "lx", "type": "quantitative"}, "y": {"field": "ly", "type": "quantitative"}, "text": {"field": "name"}}},
      {"data": {"name": "sitesB"}, "mark": {"type": "point", "shape": "triangle-up", "filled": true, "size": 450, "stroke": "black", "strokeWidth": 1.5, "opacity": 1},
       "encoding": {"x": {"field": "x", "type": "quantitative", "scale": {"domain": [-2.05, 1.35], "nice": false, "zero": false}, "axis": {"title": "RDA 1 (77.57%)", "values": [-2, -1, 0, 1]}},
                    "y": {"field": "y", "type": "quantitative", "scale": {"domain": [-1.15, 1.455], "nice": false, "zero": false}, "axis": {"title": "RDA 2 (15.7%)", "values": [-1, -0.5, 0, 0.5, 1]}},
         "fill": {"field": "group", "type": "nominal", "scale": {"domain": ["CK", "WI", "WR", "WO"], "range": ["#3DAD2E", "#FBC462", "#C99DD5", "#5DC3E8"]},
           "legend": {"title": null, "orient": "none", "legendX": 742, "legendY": 249, "symbolType": "triangle-up", "symbolSize": 450, "symbolStrokeColor": "black", "symbolStrokeWidth": 1.5, "symbolOpacity": 1, "labelOffset": 45, "rowPadding": 7, "labelFontSize": 36}}}}
    ]
  }
]
}
